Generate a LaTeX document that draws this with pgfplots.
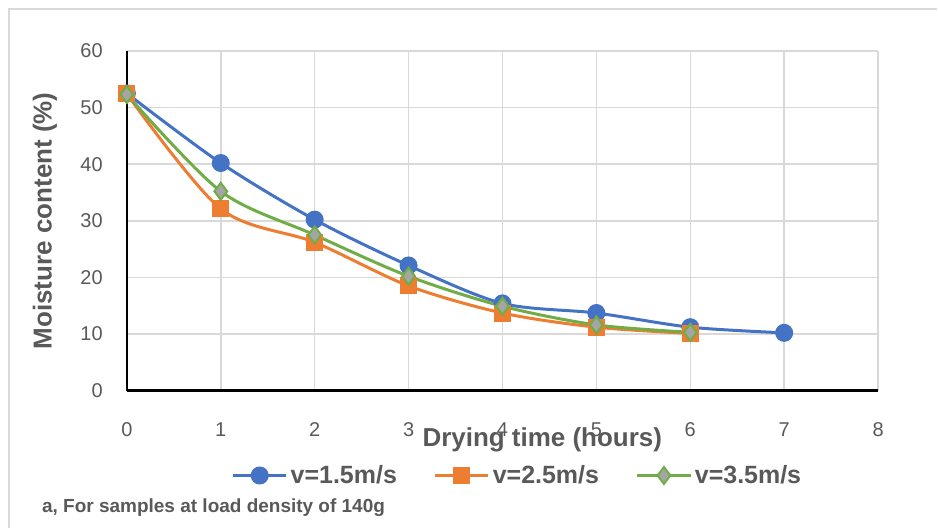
\documentclass[border=0pt]{standalone}
\usepackage{fontspec}
\setmainfont{Liberation Sans}
\usepackage{pgfplots}
\pgfplotsset{compat=1.18}
\definecolor{cblue}{HTML}{4472C4}
\definecolor{corange}{HTML}{ED7D31}
\definecolor{cgreen}{HTML}{70AD47}
\definecolor{cgray}{HTML}{A5A5A5}
\definecolor{txt}{HTML}{595959}
\definecolor{gridc}{HTML}{D9D9D9}
\begin{document}
\begin{tikzpicture}[x=1pt,y=1pt]
\path (0,0) rectangle (938,529);
\draw[gridc, line width=2pt] (9,0) -- (9,520) -- (938,520);
\begin{axis}[
  at={(127pt,138pt)}, anchor=origin,
  scale only axis, width=752pt, height=340pt,
  xmin=0, xmax=8, ymin=0, ymax=60,
  xtick={0,...,8}, ytick={0,10,...,60},
  axis lines=left,
  axis line style={-, black, line width=2.5pt},
  major tick length=0pt,
  grid=major,
  major grid style={gridc, line width=1.5pt},
  /pgf/number format/assume math mode=true,
  tick label style={font=\fontsize{20}{24}\selectfont, text=txt, inner sep=0pt},
  xticklabel style={anchor=center, yshift=-39pt},
  yticklabel style={anchor=east, xshift=-24pt},
  xlabel={Drying time (hours)},
  ylabel={Moisture content (\%)},
  label style={font=\bfseries\fontsize{26}{30}\selectfont, text=txt},
  xlabel style={at={(axis description cs:0.553,-0.144)}, anchor=center},
  ylabel style={at={(axis description cs:-0.109,0.5)}, anchor=center},
  legend columns=3,
  legend style={at={(axis description cs:0.5206,-0.25)}, anchor=center, draw=none,
    font=\bfseries\fontsize{25}{30}\selectfont, text=txt, fill=none,
    /tikz/every even column/.append style={column sep=34pt},
    nodes={inner xsep=3pt},
    inner sep=0pt},
  legend cell align=left,
  legend image code/.code={\draw[mark repeat=2,mark phase=2,#1] plot coordinates {(0pt,0pt) (26.5pt,0pt) (53pt,0pt)};},
  every axis plot/.append style={line width=3pt, smooth, tension=0.5},
]
\addplot[cblue, mark=*, mark size=7.5pt, mark options={fill=cblue, draw=cblue}] coordinates {
(0,52.5) (1,40.2) (2,30.2) (3,22.1) (4,15.4) (5,13.7) (6,11.2) (7,10.2)};
\addlegendentry{v=1.5m/s}
\addplot[corange, mark=square*, mark size=7pt, mark options={fill=corange, draw=corange}] coordinates {
(0,52.4) (1,32.1) (2,26.2) (3,18.5) (4,13.7) (5,11.2) (6,10.1)};
\addlegendentry{v=2.5m/s}
\addplot[cgreen, mark=diamond*, mark size=8.5pt, mark options={fill=cgray, draw=cgreen, line width=2pt}] coordinates {
(0,52.3) (1,35.2) (2,27.5) (3,20.2) (4,14.9) (5,11.6) (6,10.3)};
\addlegendentry{v=3.5m/s}
\end{axis}
\node[anchor=west, text=txt, font=\bfseries\fontsize{19}{23}\selectfont, inner sep=0pt] at (42,21) {a, For samples at load density of 140g};
\end{tikzpicture}
\end{document}
